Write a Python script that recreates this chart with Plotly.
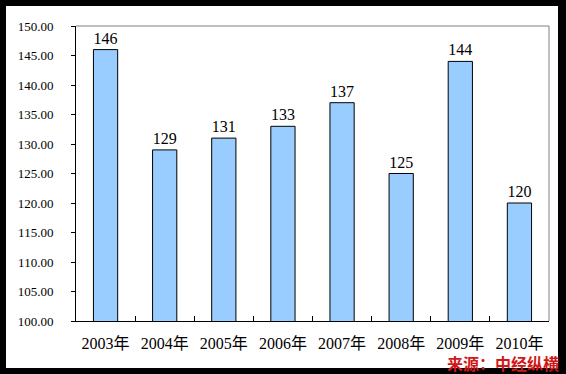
import plotly.graph_objects as go

years = ["2003年", "2004年", "2005年", "2006年", "2007年", "2008年", "2009年", "2010年"]
values = [146, 129, 131, 133, 137, 125, 144, 120]
y_ticks = [100, 105, 110, 115, 120, 125, 130, 135, 140, 145, 150]
y_tick_labels = [f"{v:.2f}" for v in y_ticks]
source_text = "来源：中经纵横"

W, H = 566, 374
L, R, T, B = 76, 17, 26, 53
pw, ph = W - L - R, H - T - B

def px_x(x):
    return (x - L) / pw

def px_y(y):
    return (H - B - y) / ph

fig = go.Figure()
fig.add_trace(go.Bar(
    x=years, y=values,
    marker=dict(color="#99ccff", line=dict(color="black", width=1)),
    text=[str(v) for v in values],
    textposition="outside",
    textfont=dict(family="Liberation Serif, Noto Sans CJK SC", size=16, color="black"),
    cliponaxis=False,
    width=0.41,
    hoverinfo="skip",
))

fig.update_layout(
    width=W, height=H,
    margin=dict(l=L, r=R, t=T, b=B, pad=0, autoexpand=False),
    paper_bgcolor="black",
    plot_bgcolor="white",
    showlegend=False,
    font=dict(family="Liberation Serif, Noto Sans CJK SC", color="black"),
    xaxis=dict(
        type="category", automargin=False,
        showline=True, linecolor="black", linewidth=1,
        ticks="inside", tickson="boundaries", ticklen=5, tickcolor="black",
        tickfont=dict(size=16, family="Liberation Serif, Noto Sans CJK SC"),
        showgrid=False, zeroline=False,
        ticklabelstandoff=8,
    ),
    yaxis=dict(
        range=[100, 150], automargin=False,
        tickvals=y_ticks, ticktext=y_tick_labels,
        showline=True, linecolor="black", linewidth=1,
        ticks="outside", ticklen=4, tickcolor="black",
        tickfont=dict(size=13, family="Liberation Serif, Noto Sans CJK SC"),
        showgrid=False, zeroline=False,
        ticklabelstandoff=15,
    ),
    shapes=[
        dict(type="rect", xref="paper", yref="paper", layer="below",
             x0=px_x(6), x1=px_x(558), y0=px_y(368), y1=px_y(6),
             fillcolor="white", line=dict(width=0)),
        dict(type="line", xref="paper", yref="paper",
             x0=0, x1=1, y0=1, y1=1, line=dict(color="#808080", width=1)),
        dict(type="line", xref="paper", yref="paper",
             x0=1, x1=1, y0=0, y1=1, line=dict(color="#808080", width=1)),
    ],
    annotations=[
        dict(text=source_text, xref="paper", yref="paper",
             x=px_x(561), y=px_y(363), xanchor="right", yanchor="middle",
             showarrow=False,
             font=dict(family="Noto Sans CJK SC", size=16, color="#d01818", weight="bold")),
    ],
)

fig.write_html(
    "out.html",
    config={"displayModeBar": False},
    post_script="document.body.style.margin='0';document.body.style.overflow='hidden';",
)
